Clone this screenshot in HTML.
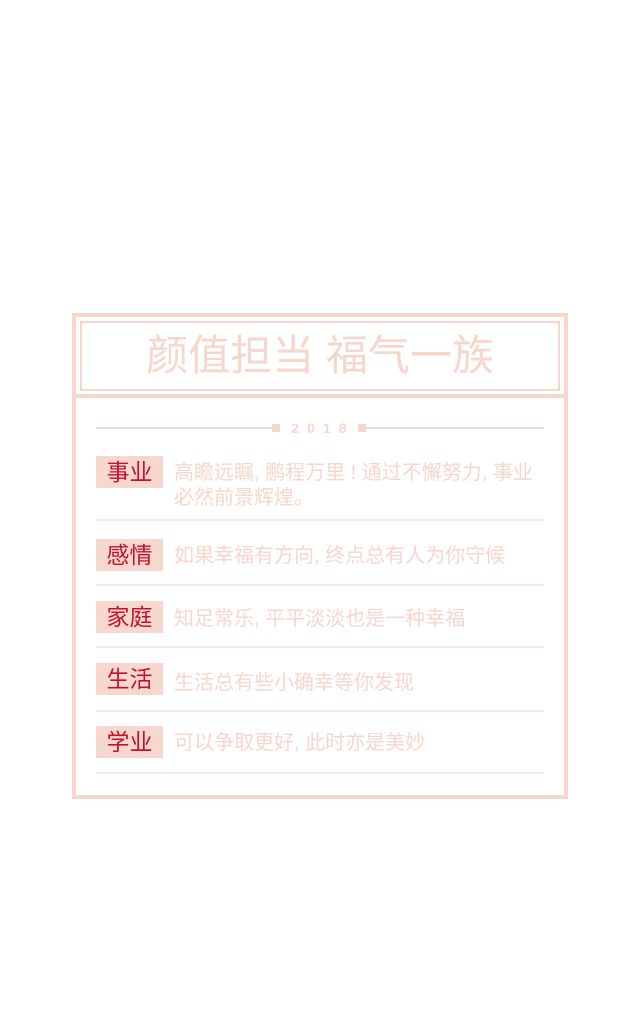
<!DOCTYPE html>
<html><head><meta charset="utf-8"><style>
body{margin:0;width:640px;height:1030px;background:#fff;position:relative;font-family:"Liberation Sans","Noto Sans CJK SC",sans-serif;overflow:hidden}
.a{position:absolute}
.lab{position:absolute;left:96px;width:67px;height:32px;background:#f7d8cf;color:#c8102e;font-size:23px;line-height:32px;text-align:center}
.txt{position:absolute;left:174px;width:375px;color:#f6d6cd;font-size:20px;line-height:25px}
.sep{position:absolute;left:96px;width:448px;height:2px;background:#fbe9e4}
</style></head><body>
<div class="a" style="left:72px;top:313px;width:488px;height:478px;border:4px solid #f6d6cd"></div>
<div class="a" style="left:80px;top:321px;width:476px;height:66px;border:2px solid #f6d6cd"></div>
<div class="a" style="left:72px;top:394px;width:496px;height:4px;background:#f6d6cd"></div>
<div class="a" style="left:80px;top:328px;width:480px;text-align:center;font-size:42px;line-height:56px;color:#f6d6cd">颜值担当 福气一族</div>
<div class="a" style="left:96px;top:427px;width:176px;height:2px;background:#f6d6cd"></div>
<div class="a" style="left:272px;top:424px;width:8px;height:8px;background:#f6d6cd"></div>
<div class="a" style="left:280px;top:418px;width:78px;text-align:center;font-size:14px;line-height:20px;letter-spacing:8px;color:#f6d6cd;font-weight:bold;padding-left:8px;box-sizing:border-box">2018</div>
<div class="a" style="left:358px;top:424px;width:8px;height:8px;background:#f6d6cd"></div>
<div class="a" style="left:366px;top:427px;width:178px;height:2px;background:#f6d6cd"></div>

<div class="lab" style="top:456px">事业</div>
<div class="txt" style="top:461px">高瞻远瞩, 鹏程万里 ! 通过不懈努力, 事业必然前景辉煌。</div>
<div class="sep" style="top:519px"></div>

<div class="lab" style="top:539px">感情</div>
<div class="txt" style="top:544px">如果幸福有方向, 终点总有人为你守候</div>
<div class="sep" style="top:584px"></div>

<div class="lab" style="top:601px">家庭</div>
<div class="txt" style="top:607px">知足常乐, 平平淡淡也是一种幸福</div>
<div class="sep" style="top:646px"></div>

<div class="lab" style="top:663px">生活</div>
<div class="txt" style="top:671px">生活总有些小确幸等你发现</div>
<div class="sep" style="top:710px"></div>

<div class="lab" style="top:726px">学业</div>
<div class="txt" style="top:731px">可以争取更好, 此时亦是美妙</div>
<div class="sep" style="top:772px"></div>
</body></html>
